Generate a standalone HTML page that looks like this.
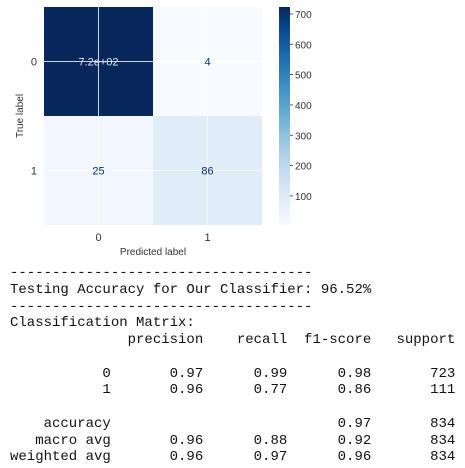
<!DOCTYPE html>
<html><head><meta charset="utf-8"><style>
body{margin:0;width:465px;height:468px;background:#fff;overflow:hidden;position:relative}
#chart{position:absolute;left:0;top:0}
pre{position:absolute;left:10px;top:265px;margin:0;font-family:"Liberation Mono",monospace;font-size:14px;line-height:16.75px;color:#111}
</style></head><body>
<svg id="chart" width="330" height="262" font-family="Liberation Sans, sans-serif"></svg>
<pre>------------------------------------
Testing Accuracy for Our Classifier: 96.52%
------------------------------------
Classification Matrix:
              precision    recall  f1-score   support

           0       0.97      0.99      0.98       723
           1       0.96      0.77      0.86       111

    accuracy                           0.97       834
   macro avg       0.96      0.88      0.92       834
weighted avg       0.96      0.97      0.96       834</pre>
<script>
const classes=["0","1"];
const matrix=[[723,4],[25,86]];
const cellLabels=[["7.2e+02","4"],["25","86"]];
const cbTicks=[100,200,300,400,500,600,700];
const NS="http://www.w3.org/2000/svg";
const svg=document.getElementById('chart');
function mk(t,a){const e=document.createElementNS(NS,t);for(const k in a)e.setAttribute(k,a[k]);svg.appendChild(e);return e;}
const vmin=Math.min(...matrix.flat()),vmax=Math.max(...matrix.flat());
const x0=44,cw=109,y0=7,ch=109;
function col(v){const t=(v-vmin)/(vmax-vmin);
 const stops=[[0,[247,251,255]],[0.125,[222,235,247]],[0.25,[198,219,239]],[0.375,[158,202,225]],[0.5,[107,174,214]],[0.625,[66,146,198]],[0.75,[33,113,181]],[0.875,[8,81,156]],[1,[8,39,90]]];
 for(let i=1;i<stops.length;i++){if(t<=stops[i][0]){const a=stops[i-1],b=stops[i],f=(t-a[0])/(b[0]-a[0]);return 'rgb('+a[1].map((c,j)=>Math.round(c+(b[1][j]-c)*f)).join(',')+')';}}
 return 'rgb(8,39,90)';}
matrix.forEach((row,i)=>row.forEach((v,j)=>{
 const r=mk('rect',{x:x0+j*cw,y:y0+i*ch,width:cw,height:ch,fill:col(v)});
 
 
}));
classes.forEach((c,k)=>{
 mk('line',{x1:x0+k*cw+cw/2,x2:x0+k*cw+cw/2,y1:y0,y2:y0+2*ch,stroke:'#fff','stroke-width':1,opacity:0.8});
 mk('line',{y1:y0+k*ch+ch/2,y2:y0+k*ch+ch/2,x1:x0,x2:x0+2*cw,stroke:'#fff','stroke-width':1,opacity:0.8});
});
matrix.forEach((row,i)=>row.forEach((v,j)=>{
 const t=mk('text',{x:x0+j*cw+cw/2,y:y0+i*ch+ch/2+4,'text-anchor':'middle','font-size':11,fill:(v-vmin)/(vmax-vmin)>0.5?'#dde6f3':'#08306b'});
 t.textContent=cellLabels[i][j];
 
 
}));
classes.forEach((c,k)=>{
 const tx=mk('text',{x:x0+k*cw+cw/2,y:241,'text-anchor':'middle','font-size':11,fill:'#333'});tx.textContent=c;
 
 
 const ty=mk('text',{x:37,y:y0+k*ch+ch/2+4,'text-anchor':'end','font-size':11,fill:'#333'});ty.textContent=c;
 
 
});
const xl=mk('text',{x:153,y:255,'text-anchor':'middle','font-size':10,fill:'#333'});xl.textContent='Predicted label';


const yl=mk('text',{x:0,y:0,'text-anchor':'middle','font-size':10,fill:'#333',transform:'translate(23,116) rotate(-90)'});yl.textContent='True label';


const cbx=279,cbw=11,cbTop=y0,cbBot=y0+2*ch;
function cy(v){return cbBot-(v-vmin)/(vmax-vmin)*(cbBot-cbTop);}
const defs=mk('defs',{});
const g=document.createElementNS(NS,'linearGradient');g.setAttribute('id','cbg');g.setAttribute('x1','0');g.setAttribute('y1','1');g.setAttribute('x2','0');g.setAttribute('y2','0');
for(let s=0;s<=10;s++){const st=document.createElementNS(NS,'stop');st.setAttribute('offset',s/10);st.setAttribute('stop-color',col(vmin+(vmax-vmin)*s/10));g.appendChild(st);}
defs.appendChild(g);
const cb=mk('rect',{x:cbx,y:cbTop,width:cbw,height:cbBot-cbTop,fill:'url(#cbg)'});


cbTicks.forEach(v=>{
 mk('line',{x1:cbx+cbw,x2:cbx+cbw+3,y1:cy(v),y2:cy(v),stroke:'#333','stroke-width':0.8});
 const t=mk('text',{x:cbx+cbw+5,y:cy(v)+4,'font-size':10,fill:'#333'});t.textContent=v;
 
 
});
</script>
</body></html>
